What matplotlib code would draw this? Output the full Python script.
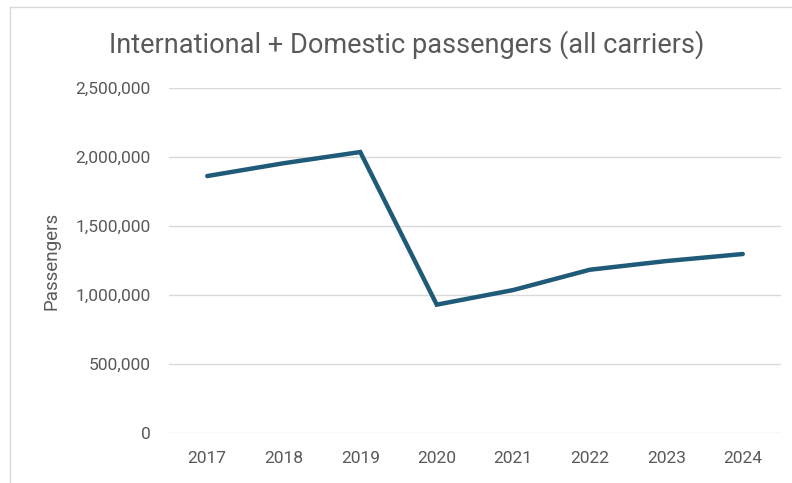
import matplotlib.pyplot as plt
from matplotlib.ticker import FuncFormatter
from matplotlib.lines import Line2D

years = ["2017", "2018", "2019", "2020", "2021", "2022", "2023", "2024"]
passengers = [1862000, 1955000, 2036000, 930000, 1036000, 1183000, 1246000, 1297000]
yticks = [0, 500000, 1000000, 1500000, 2000000, 2500000]

plt.rcParams['font.family'] = ['Roboto', 'DejaVu Sans']
grey = "#595959"

fig = plt.figure(figsize=(7.92, 4.83), dpi=100)
ax = fig.add_axes([169 / 792, 1 - 433 / 483, (781 - 169) / 792, (433 - 88) / 483])

x = range(len(years))
ax.plot(x, passengers, color="#1f5b78", lw=3.2, solid_joinstyle="miter", solid_capstyle="round")

ax.set_xlim(-0.5, len(years) - 0.5)
ax.set_ylim(0, 2500000)
ax.set_yticks(yticks)
ax.yaxis.set_major_formatter(FuncFormatter(lambda v, p: "{:,.0f}".format(v)))
ax.set_xticks(list(x))
ax.set_xticklabels(years)

# gridlines, no frame
ax.grid(axis="y", color="#d9d9d9", lw=1)
ax.set_axisbelow(True)
for s in ax.spines.values():
    s.set_visible(False)
ax.tick_params(length=0, colors=grey, labelsize=12.5)
ax.tick_params(axis="y", pad=13)
ax.tick_params(axis="x", pad=13)

ax.set_ylabel("Passengers", color=grey, fontsize=13.5, labelpad=11)
fig.text(407 / 792, 1 - 45 / 483, "International + Domestic passengers (all carriers)",
         ha="center", va="center", color=grey, fontsize=19.5)

# chart area border (left and top visible in the crop)
fig.add_artist(Line2D([10 / 792, 10 / 792], [0, 1 - 7 / 483], color="#d9d9d9", lw=1))
fig.add_artist(Line2D([10 / 792, 1], [1 - 7 / 483, 1 - 7 / 483], color="#d9d9d9", lw=1))

fig.savefig("out.png", dpi=100)
